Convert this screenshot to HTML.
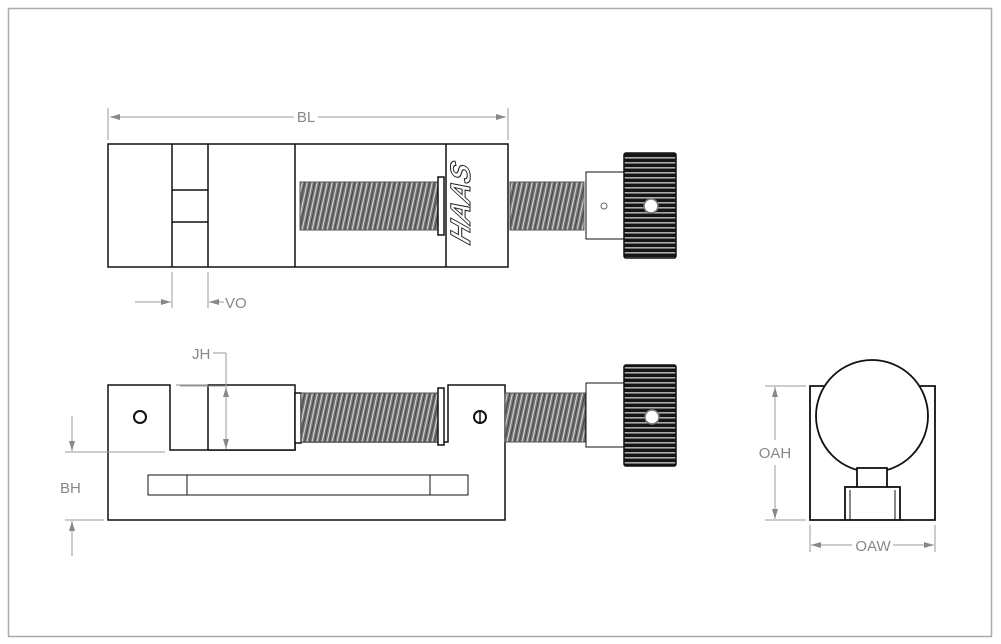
<!DOCTYPE html>
<html><head><style>body{margin:0;background:#fff}svg{display:block}</style></head><body>
<svg width="1001" height="644" viewBox="0 0 1001 644" xmlns="http://www.w3.org/2000/svg" font-family="Liberation Sans, sans-serif">
<defs>
<pattern id="thr" width="5" height="50" patternUnits="userSpaceOnUse" patternTransform="skewX(-12)">
<rect width="5" height="50" fill="#7a7a7a"/><line x1="1" y1="0" x2="1" y2="50" stroke="#d8d8d8" stroke-width="1"/><line x1="3.5" y1="0" x2="3.5" y2="50" stroke="#333" stroke-width="0.8"/>
</pattern>
<pattern id="knob" width="10" height="5" patternUnits="userSpaceOnUse">
<rect width="10" height="5" fill="#151515"/><rect y="2" width="10" height="1.6" fill="#aaa"/>
</pattern>
<marker id="ar" viewBox="0 0 10 6" refX="10" refY="3" markerWidth="14" markerHeight="6" markerUnits="userSpaceOnUse" orient="auto"><path d="M0,0L10,3L0,6z" fill="#888"/></marker>
</defs>
<rect x="8.5" y="8.5" width="983" height="628" fill="none" stroke="#aaa" stroke-width="1.5"/>
<!-- TOP VIEW -->
<g stroke="#111" stroke-width="1.5" fill="#fff">
<rect x="300" y="150" width="7" height="112"/>
<rect x="108" y="144" width="400" height="123"/>
<line x1="172" y1="144" x2="172" y2="267"/><line x1="208" y1="144" x2="208" y2="267"/>
<line x1="172" y1="190" x2="208" y2="190"/><line x1="172" y1="222" x2="208" y2="222"/>
<line x1="295" y1="144" x2="295" y2="267"/><line x1="446" y1="144" x2="446" y2="267"/>
<rect x="300" y="182" width="138" height="48" fill="url(#thr)" stroke="#555" stroke-width="1"/>
<rect x="438" y="177" width="6" height="58"/>
<rect x="510" y="182" width="74" height="48" fill="url(#thr)" stroke="#555" stroke-width="1"/>
<rect x="586" y="172" width="38" height="67" stroke-width="1"/>
<rect x="624" y="153" width="52" height="105" fill="url(#knob)" stroke="#111" rx="2"/>
<circle cx="651" cy="206" r="7" stroke="#777"/>
<circle cx="604" cy="206" r="3" stroke="#666" stroke-width="1"/>
</g>
<text x="0" y="0" transform="translate(470,206) rotate(-90) skewX(-20)" text-anchor="middle" font-size="28" font-weight="bold" font-style="italic" fill="#fff" stroke="#222" stroke-width="1">HAAS</text>
<!-- SIDE VIEW -->
<g stroke="#111" stroke-width="1.5" fill="#fff">
<path d="M108,385 H170 V450 H295 V442 H448 V385 H505 V520 H108 Z"/>
<rect x="208" y="385" width="87" height="65"/>
<line x1="176" y1="385" x2="208" y2="385" stroke="#888" stroke-width="1"/>
<rect x="295" y="393" width="6" height="50"/>
<rect x="301" y="393" width="137" height="49" fill="url(#thr)" stroke="#555" stroke-width="1"/>
<rect x="438" y="388" width="6" height="57"/>
<rect x="505" y="393" width="80" height="49" fill="url(#thr)" stroke="#555" stroke-width="1"/>
<rect x="586" y="383" width="38" height="64" stroke-width="1"/>
<rect x="624" y="365" width="52" height="101" fill="url(#knob)" rx="2"/>
<circle cx="652" cy="417" r="7" stroke="#777"/>
<circle cx="140" cy="417" r="6" stroke-width="2"/>
<circle cx="480" cy="417" r="6" stroke-width="2"/>
<line x1="480" y1="411" x2="480" y2="423"/>
<rect x="148" y="475" width="320" height="20" stroke-width="1"/>
<line x1="187" y1="475" x2="187" y2="495" stroke-width="1"/><line x1="430" y1="475" x2="430" y2="495" stroke-width="1"/>
</g>
<!-- END VIEW -->
<g stroke="#111" stroke-width="1.8" fill="#fff">
<path d="M845,520 H810 V386 H935 V520 H900"/>
<circle cx="872" cy="416" r="56"/>
<rect x="857" y="468" width="30" height="20"/>
<rect x="845" y="487" width="55" height="33"/>
<line x1="850" y1="490" x2="850" y2="520" stroke-width="1"/><line x1="895" y1="490" x2="895" y2="520" stroke-width="1"/>
</g>
<!-- DIMENSIONS -->
<g stroke="#999" stroke-width="1" fill="none">
<line x1="108" y1="108" x2="108" y2="140"/><line x1="508" y1="108" x2="508" y2="140"/>
<line x1="294" y1="117" x2="110" y2="117" marker-end="url(#ar)"/><line x1="318" y1="117" x2="506" y2="117" marker-end="url(#ar)"/>
<line x1="172" y1="272" x2="172" y2="308"/><line x1="208" y1="272" x2="208" y2="308"/>
<line x1="135" y1="302" x2="171" y2="302" marker-end="url(#ar)"/><line x1="224" y1="302" x2="209" y2="302" marker-end="url(#ar)"/>
<line x1="213" y1="353" x2="226" y2="353"/><line x1="226" y1="353" x2="226" y2="386"/>
<line x1="226" y1="418" x2="226" y2="387" marker-end="url(#ar)"/><line x1="226" y1="418" x2="226" y2="449" marker-end="url(#ar)"/>
<line x1="180" y1="386" x2="228" y2="386"/>
<line x1="65" y1="452" x2="165" y2="452"/><line x1="65" y1="520" x2="104" y2="520"/>
<line x1="72" y1="416" x2="72" y2="451" marker-end="url(#ar)"/><line x1="72" y1="556" x2="72" y2="521" marker-end="url(#ar)"/>
<line x1="765" y1="386" x2="806" y2="386"/><line x1="765" y1="520" x2="806" y2="520"/>
<line x1="775" y1="440" x2="775" y2="387" marker-end="url(#ar)"/><line x1="775" y1="465" x2="775" y2="519" marker-end="url(#ar)"/>
<line x1="810" y1="525" x2="810" y2="552"/><line x1="935" y1="525" x2="935" y2="552"/>
<line x1="852" y1="545" x2="811" y2="545" marker-end="url(#ar)"/><line x1="893" y1="545" x2="934" y2="545" marker-end="url(#ar)"/>
</g>
<g fill="#888" font-size="15">
<text x="306" y="122" text-anchor="middle">BL</text>
<text x="225" y="308">VO</text>
<text x="192" y="359">JH</text>
<text x="60" y="493">BH</text>
<text x="775" y="458" text-anchor="middle">OAH</text>
<text x="873" y="551" text-anchor="middle">OAW</text>
</g>
</svg>
</body></html>
